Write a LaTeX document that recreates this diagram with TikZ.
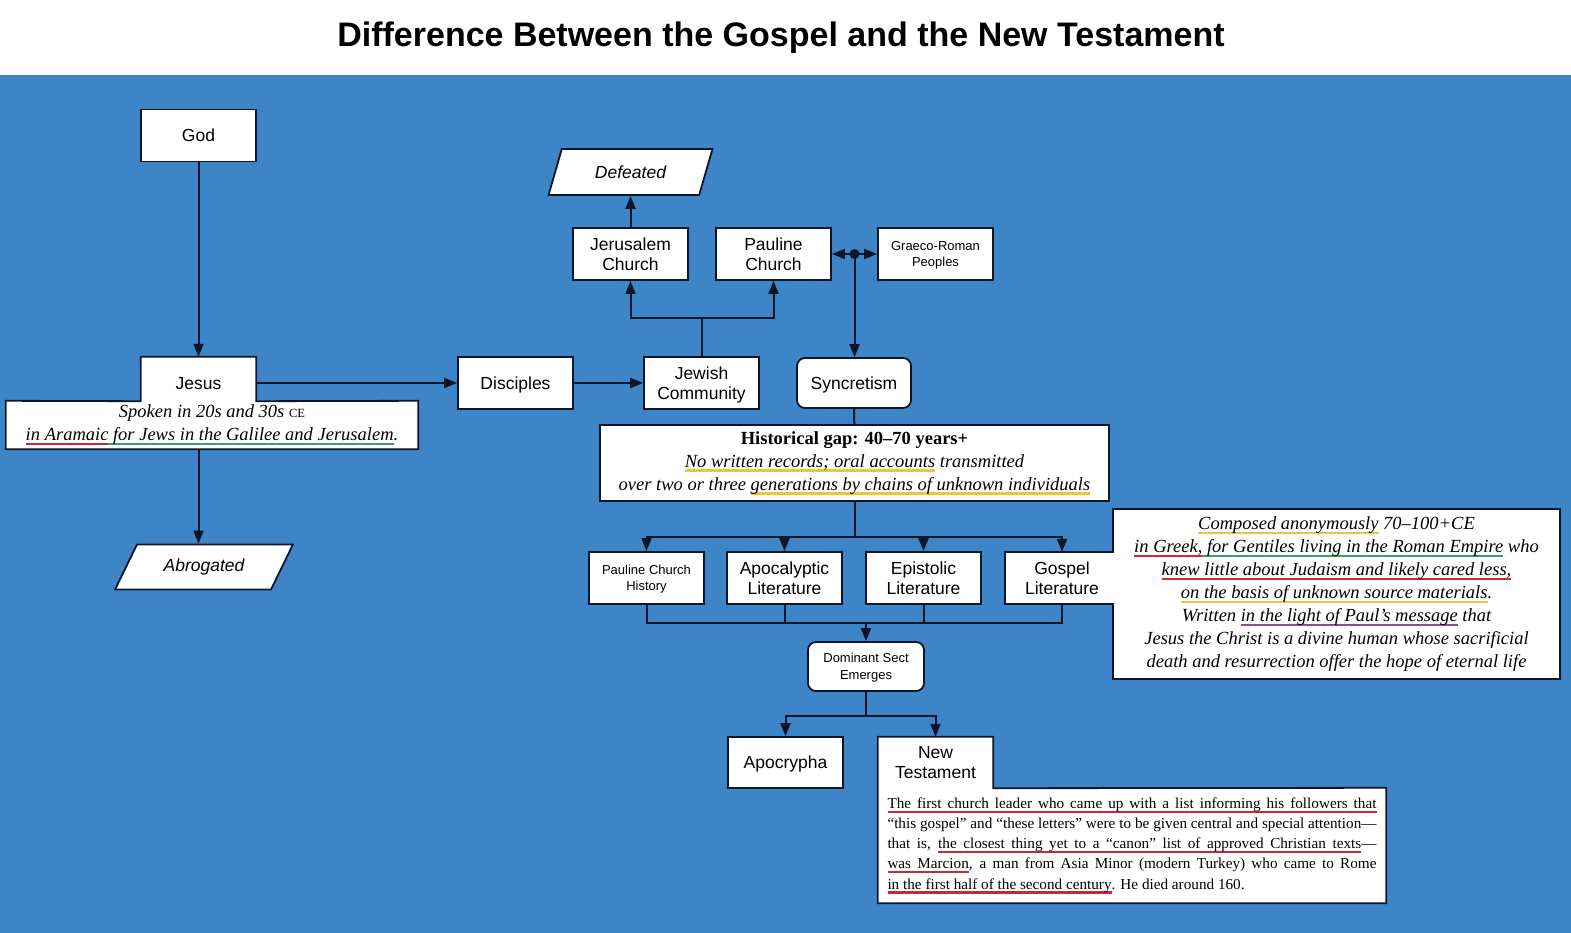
\documentclass[tikz,border=0pt]{standalone}
\usepackage{fontspec}
\setmainfont{Liberation Serif}
\setsansfont{Liberation Sans}
\usepackage{tikz}
\usetikzlibrary{shapes.geometric, arrows.meta, positioning, calc, backgrounds}
\definecolor{pageblue}{RGB}{61, 133, 198}
\definecolor{boxline}{RGB}{12, 22, 42}
\definecolor{markred}{RGB}{205, 40, 50}
\definecolor{markgreen}{RGB}{60, 160, 85}
\definecolor{markyellow}{RGB}{238, 196, 60}
\definecolor{markpurple}{RGB}{140, 75, 160}
% coloured underlines, word by word so the spaces can still stretch
\newsavebox{\ulbox}
\newcommand{\ulword}[1]{\sbox\ulbox{#1}\rlap{\color{\ulcolor}\rule[-4.5pt]{\wd\ulbox}{2.2pt}}\usebox\ulbox}
\newcommand{\ulspace}{{\color{\ulcolor}\leaders\hrule height -2.3pt depth 4.5pt\hskip\fontdimen2\font plus\fontdimen3\font minus\fontdimen4\font}}
\def\ulwords#1 #2\ulstop{\ulword{#1}\ifx\relax#2\relax\else\ulspace\ulwords#2\ulstop\fi}
\newcommand{\ulmark}[2]{\def\ulcolor{#1}\ulwords#2 \ulstop}
\newcommand{\ulgap}[1]{\def\ulcolor{#1}\ulspace}
\newcommand{\labelfont}{\sffamily\fontsize{17.5}{20.5}\selectfont}
\newcommand{\smalllabelfont}{\sffamily\fontsize{13}{16.5}\selectfont}
\newcommand{\notefont}{\rmfamily\itshape\fontsize{18.5}{23}\selectfont}
\newcommand{\paperfont}{\rmfamily\fontsize{15.2}{20.2}\selectfont}
\tikzstyle{block} = [rectangle, draw=boxline, fill=white, line width=1.8pt, inner sep=0pt, minimum width=115pt, minimum height=52pt, align=center, text depth=0pt, font=\labelfont]
\tikzstyle{smallblock} = [block, font=\smalllabelfont]
\tikzstyle{tab} = [rectangle, inner sep=0pt, minimum width=115pt, minimum height=52pt, align=center, text depth=0pt, font=\labelfont]
\tikzstyle{note} = [rectangle, inner sep=0pt, align=center, font=\notefont]
\tikzstyle{io} = [trapezium, trapezium stretches=true, draw=boxline, fill=white, line width=1.8pt, inner sep=0pt, font=\labelfont\itshape]
\tikzstyle{outline} = [draw=boxline, fill=white, line width=1.8pt, line join=miter]
\tikzstyle{link} = [draw=boxline, line width=2pt]
\tikzstyle{arrow} = [link, -{Triangle[length=13pt, width=10pt]}]

\begin{document}
\begin{tikzpicture}[x=1pt, y=-1pt]
    \useasboundingbox (0,0) rectangle (1571,933);
    \begin{scope}[on background layer]
        \fill[white] (0,0) rectangle (1571,75);
        \fill[pageblue] (0,75) rectangle (1571,933);
    \end{scope}

    % Title
    \node[font=\sffamily\bfseries\fontsize{34}{38}\selectfont] (title) at (781,38) {Difference Between the Gospel and the New Testament};

    % Left column
    \node[block] (god) at (198.5,135.5) {God};
    \node[tab, minimum height=44pt] (jesus) at (198.5,379) {\raisebox{-4pt}[\height][\depth]{Jesus}};
    \node[note, minimum width=412pt, minimum height=48pt] (jesusnote) at (212,425) {Spoken in 20s and 30s {\upshape\fontsize{12.5}{12.5}\selectfont CE}\\\ulmark{markred}{in Aramaic}\ulgap{markgreen}\ulmark{markgreen}{for Jews in the Galilee and Jerusalem}.};
    \node[io, trapezium left angle=51, trapezium right angle=129, minimum width=178pt, minimum height=45pt] (abrogated) at (204,567) {Abrogated};

    % Early communities
    \node[block] (disciples) at (515.5,383) {Disciples};
    \node[block] (jewish) at (701.5,383) {Jewish\\Community};
    \node[block] (jerusalem) at (630.5,254) {Jerusalem\\Church};
    \node[block] (pauline) at (773.5,254) {Pauline\\Church};
    \node[smallblock] (graeco) at (935.5,254) {Graeco-Roman\\Peoples};
    \node[io, trapezium left angle=62, trapezium right angle=118, minimum width=164pt, minimum height=46pt] (defeated) at (630.5,172) {Defeated};
    \node[block, rounded corners=8pt, minimum width=114pt, minimum height=50pt] (syncretism) at (854,383) {Syncretism};

    % Historical gap
    \node[block, minimum width=509pt, minimum height=76pt, text depth=, font=\notefont] (gap) at (854.5,463) {{\upshape\bfseries Historical gap: 40--70 years+}\\\ulmark{markyellow}{No written records; oral accounts} transmitted\\over two or three \ulmark{markyellow}{generations by chains of unknown individuals}};

    % Literature
    \node[smallblock] (pch) at (646.5,578) {Pauline Church\\History};
    \node[block] (apoc) at (784.5,578) {Apocalyptic\\Literature};
    \node[block] (epis) at (923.5,578) {Epistolic\\Literature};
    \node[tab, minimum width=114pt] (gospel) at (1062,578) {Gospel\\Literature};
    \node[note, minimum width=447pt, minimum height=170pt] (gospelnote) at (1336.5,594) {\ulmark{markyellow}{Composed anonymously} 70--100+CE\\\ulmark{markred}{in Greek,}\ulgap{markgreen}\ulmark{markgreen}{for Gentiles living in the Roman Empire} who\\\ulmark{markred}{knew little about Judaism and likely cared less,}\\\ulmark{markyellow}{on the basis of unknown source materials}.\\Written \ulmark{markpurple}{in the light of Paul's message} that\\Jesus the Christ is a divine human whose sacrificial\\death and resurrection offer the hope of eternal life};

    % Outcome
    \node[smallblock, rounded corners=8pt, minimum width=116pt, minimum height=49pt] (dominant) at (866,666.5) {Dominant Sect\\Emerges};
    \node[block, minimum height=51pt] (apocrypha) at (785.5,762.5) {Apocrypha};
    \node[tab, minimum height=51pt] (nt) at (935.5,762.5) {New\\Testament};
    \node[note, minimum width=508pt, minimum height=115pt, text width=489pt, align=justify, font=\paperfont] (ntnote) at (1132,845.5) {\ulmark{markred}{The first church leader who came up with a list informing his followers that}\linebreak “this gospel” and “these letters” were to be given central and special attention—\linebreak that is, \ulmark{markred}{the closest thing yet to a “canon” list of approved Christian texts}—\linebreak \ulmark{markred}{was Marcion}, a man from Asia Minor (modern Turkey) who came to Rome\linebreak \ulmark{markred}{in the first half of the second century}. He died around 160.};

    % Joined boxes
    \begin{scope}[on background layer]
        \draw[outline] (jesusnote.north west) -- (jesus.south west) -- (jesus.north west) -- (jesus.north east) -- (jesus.south east) -- (jesusnote.north east) -- (jesusnote.south east) -- (jesusnote.south west) -- cycle;
        \draw[outline] (gospelnote.north west) -- (gospelnote.west |- gospel.north) -- (gospel.north west) -- (gospel.south west) -- (gospelnote.west |- gospel.south) -- (gospelnote.south west) -- (gospelnote.south east) -- (gospelnote.north east) -- cycle;
        \draw[outline] (nt.north west) -- (nt.north east) -- (nt.south east) -- (ntnote.north east) -- (ntnote.south east) -- (ntnote.south west) -- cycle;
    \end{scope}

    % Arrows
    \draw[arrow] (god) -- (jesus);
    \draw[arrow] (jesus |- jesusnote.south) -- (jesus |- abrogated.north);
    \draw[arrow] (jesus.east |- disciples) -- (disciples);
    \draw[arrow] (disciples) -- (jewish);
    \draw[arrow] (jewish.north) -- ++(0,-38) -| (jerusalem);
    \draw[arrow] (jewish.north) -- ++(0,-38) -| (pauline);
    \draw[arrow] (jerusalem) -- (defeated);
    \draw[link, {Triangle[length=13pt, width=10pt]}-{Triangle[length=13pt, width=10pt]}] (pauline) -- (graeco) coordinate[midway] (split);
    \fill[boxline] (split) circle (5pt);
    \draw[arrow] (split) -- (split |- syncretism.north);
    \draw[link] (syncretism) -- (gap);
    \coordinate (litsplit) at ($(gap.south)+(0,35)$);
    \draw[link] (gap) -- (litsplit);
    \foreach \t in {pch, apoc, epis, gospel}
        \draw[arrow] (litsplit) -| (\t);
    \coordinate (litmerge) at ($(dominant.north)+(0,-18)$);
    \foreach \t in {pch, apoc, epis, gospel}
        \draw[link] (\t) |- (litmerge);
    \draw[arrow] (litmerge) -- (dominant);
    \coordinate (sectsplit) at ($(dominant.south)+(0,24)$);
    \draw[link] (dominant) -- (sectsplit);
    \draw[arrow] (sectsplit) -| (apocrypha);
    \draw[arrow] (sectsplit) -| (nt);
\end{tikzpicture}
\end{document}
